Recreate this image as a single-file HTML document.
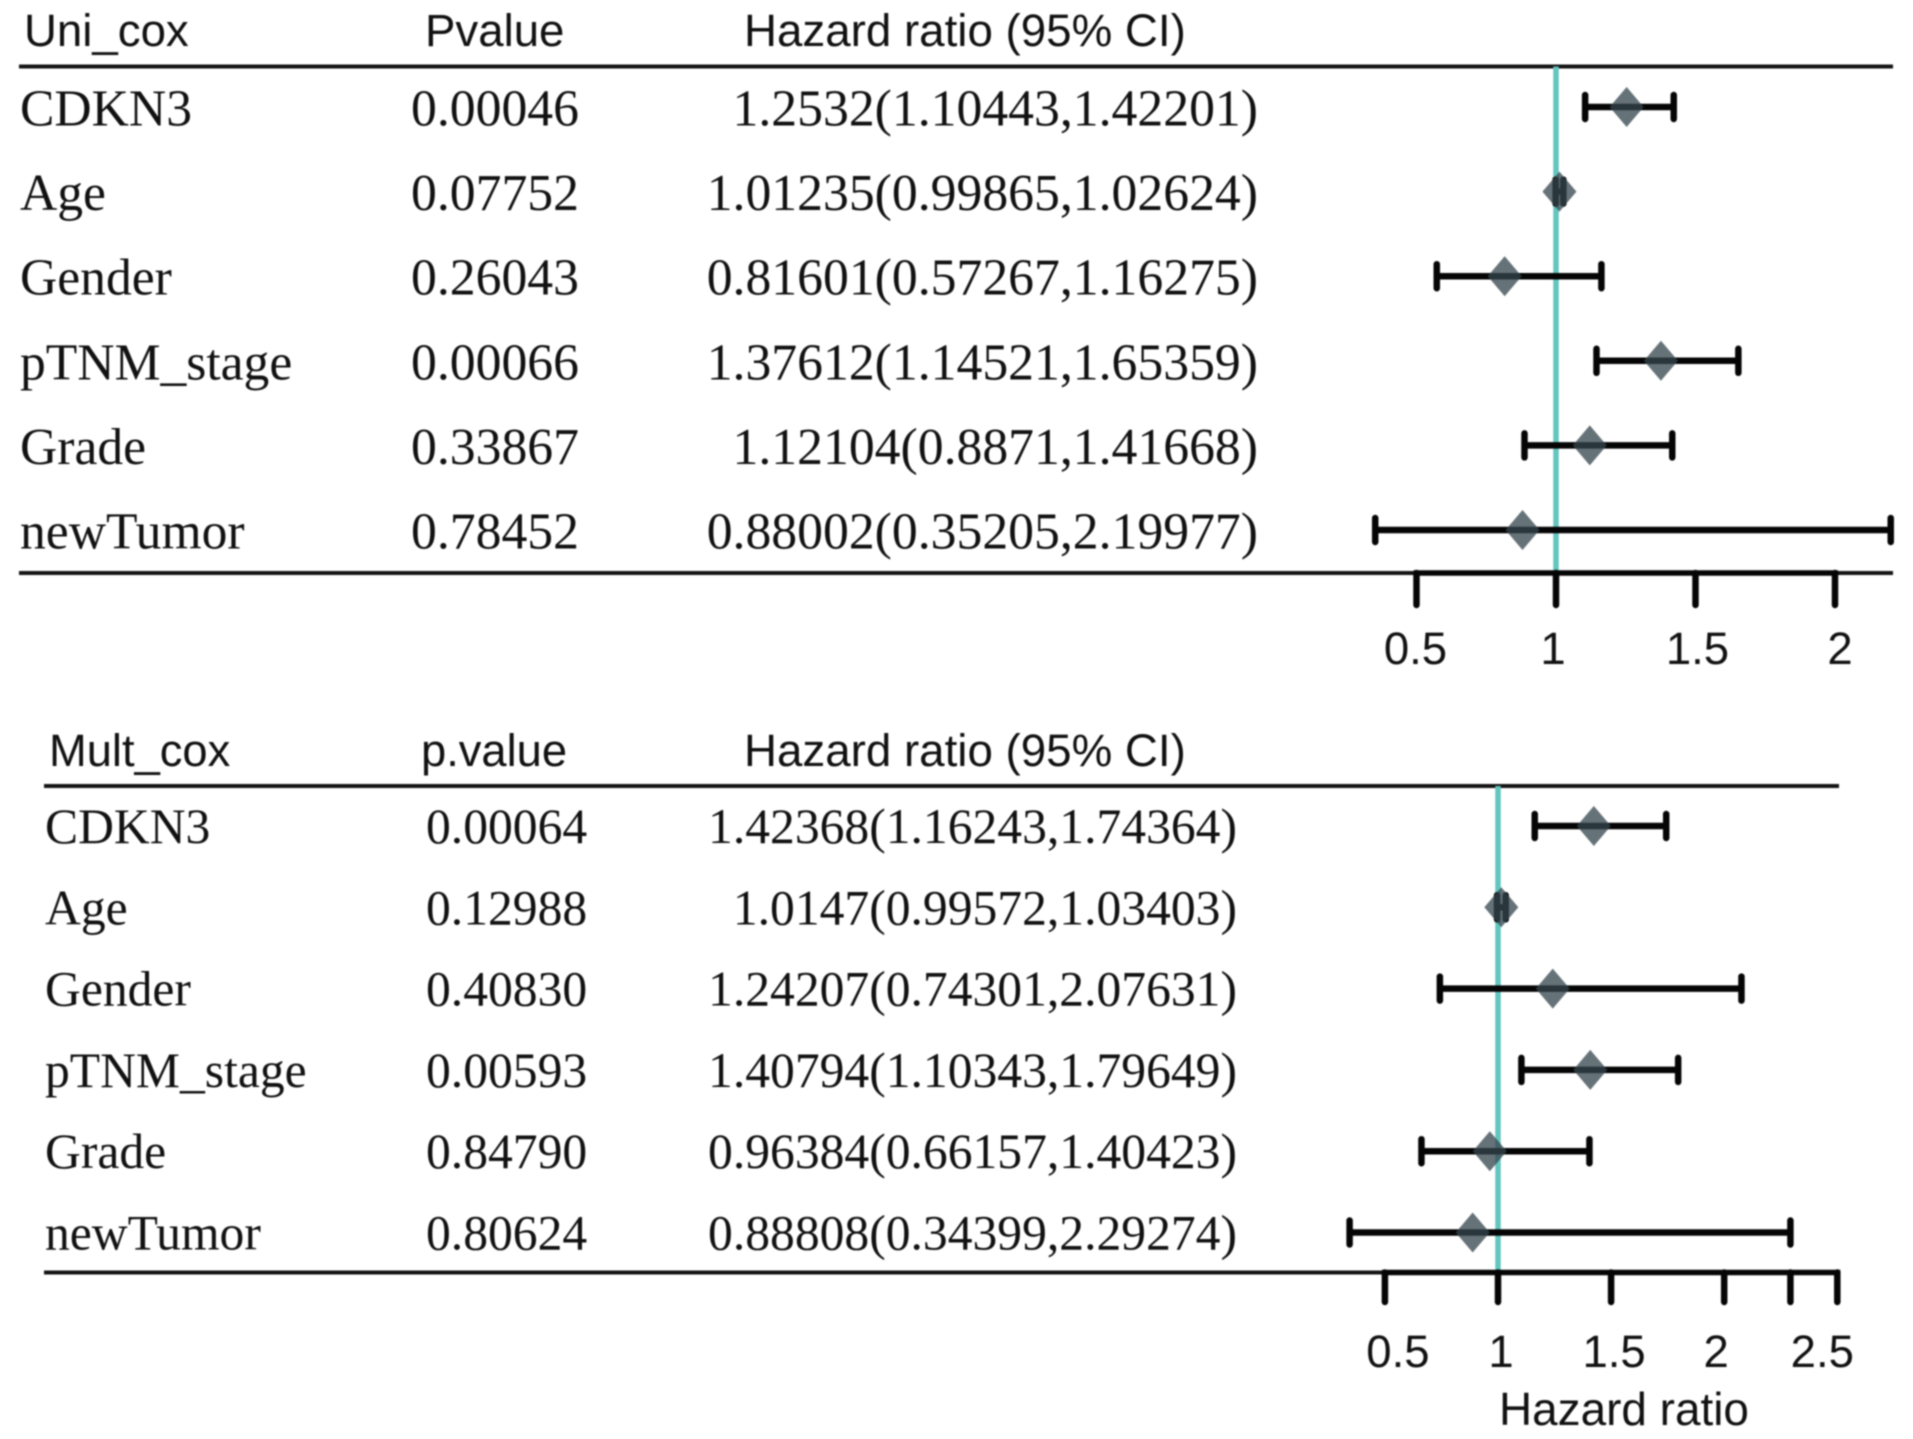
<!DOCTYPE html>
<html lang="en">
<head>
<meta charset="utf-8">
<title>Cox regression forest plots</title>
<style>
  html, body { margin: 0; padding: 0; background: #fff; }
  body { width: 1913px; height: 1439px; overflow: hidden; }
  svg { display: block; filter: blur(0.9px); }
  .sans { font-family: "Liberation Sans", sans-serif; fill: #111; }
  .serif { font-family: "Liberation Serif", serif; fill: #111; }
</style>
</head>
<body>
<svg id="chart" xmlns="http://www.w3.org/2000/svg" width="1913" height="1439" viewBox="0 0 1913 1439">
  <rect width="1913" height="1439" fill="#fff"/>
  <g id="uni">
    <text class="sans" x="24" y="46" font-size="45.6">Uni_cox</text>
    <text class="sans" x="425" y="46" font-size="45.6">Pvalue</text>
    <text class="sans" x="744" y="46" font-size="45.7">Hazard ratio (95% CI)</text>
  </g>
  <g id="mult">
    <text class="sans" x="49" y="766" font-size="45.3">Mult_cox</text>
    <text class="sans" x="421" y="766" font-size="45.3">p.value</text>
    <text class="sans" x="744" y="766" font-size="45.7">Hazard ratio (95% CI)</text>
    <text class="sans" x="1499" y="1425" font-size="45.9">Hazard ratio</text>
  </g>
</svg>
<script>
// ---- Shared categories ----
const categories = ['CDKN3', 'Age', 'Gender', 'pTNM_stage', 'Grade', 'newTumor'];

// ---- Univariate Cox data ----
const uniPvalues = ['0.00046', '0.07752', '0.26043', '0.00066', '0.33867', '0.78452'];
const uniHr = [1.2532, 1.01235, 0.81601, 1.37612, 1.12104, 0.88002];
const uniLow = [1.10443, 0.99865, 0.57267, 1.14521, 0.8871, 0.35205];
const uniHigh = [1.42201, 1.02624, 1.16275, 1.65359, 1.41668, 2.19977];
const uniTicks = [0.5, 1, 1.5, 2];
const uniTickLabels = ['0.5', '1', '1.5', '2'];

// ---- Multivariate Cox data ----
const multPvalues = ['0.00064', '0.12988', '0.40830', '0.00593', '0.84790', '0.80624'];
const multHr = [1.42368, 1.0147, 1.24207, 1.40794, 0.96384, 0.88808];
const multLow = [1.16243, 0.99572, 0.74301, 1.10343, 0.66157, 0.34399];
const multHigh = [1.74364, 1.03403, 2.07631, 1.79649, 1.40423, 2.29274];
const multTicks = [0.5, 1, 1.5, 2, 2.29274, 2.5];
const multTickLabels = ['0.5', '1', '1.5', '2', '2.5'];

const NS = 'http://www.w3.org/2000/svg';
function make(tag, parent, attrs, text) {
  const el = document.createElementNS(NS, tag);
  for (const k in attrs) el.setAttribute(k, attrs[k]);
  if (text !== undefined) el.textContent = text;
  parent.appendChild(el);
  return el;
}

function drawPanel(group, d, s) {
  const xScale = v => s.xRef + (v - 1) * s.pxPerUnit;
  const yScale = i => s.rowTop + i * s.rowStep;

  const rowsTop = make('line', group, { x1: s.ruleLeft, x2: s.ruleRight, y1: s.ruleTop, y2: s.ruleTop, stroke: '#141414', 'stroke-width': 4 });
  
  

  const ref = make('line', group, { x1: xScale(1), x2: xScale(1), y1: s.ruleTop, y2: s.ruleBottom, stroke: '#63c5be', 'stroke-width': 5.5 });
  
  

  const rowsBottom = make('line', group, { x1: s.ruleLeft, x2: s.ruleRight, y1: s.ruleBottom, y2: s.ruleBottom, stroke: '#141414', 'stroke-width': 4 });
  
  

  d.categories.forEach((cat, i) => {
    const y = yScale(i);
    const base = y + s.baseline;

    const name = make('text', group, { class: 'serif', x: s.nameX, y: base, 'font-size': s.nameSize }, cat);
    
    

    const p = make('text', group, { class: 'serif', x: s.pX, y: base, 'font-size': s.valueSize }, d.pvalues[i]);
    
    

    const ci = make('text', group, { class: 'serif', x: s.ciRight, y: base, 'font-size': s.valueSize, 'text-anchor': 'end' },
      d.hr[i] + '(' + d.low[i] + ',' + d.high[i] + ')');
    
    

    const whisker = make('line', group, { x1: xScale(d.low[i]), x2: xScale(d.high[i]), y1: y, y2: y, stroke: '#050505', 'stroke-width': 6.5 });
    
    

    const capLow = make('line', group, { x1: xScale(d.low[i]), x2: xScale(d.low[i]), y1: y - 12, y2: y + 12, stroke: '#050505', 'stroke-width': 6.5, 'stroke-linecap': 'round' });
    
    

    const capHigh = make('line', group, { x1: xScale(d.high[i]), x2: xScale(d.high[i]), y1: y - 12, y2: y + 12, stroke: '#050505', 'stroke-width': 6.5, 'stroke-linecap': 'round' });
    
    

    const cx = xScale(d.hr[i]);
    const diamond = make('polygon', group, {
      points: [[cx, y - 20], [cx + 17, y], [cx, y + 20], [cx - 17, y]].map(q => q.join(',')).join(' '),
      fill: 'rgb(52,70,78)', 'fill-opacity': 0.76
    });
    
    
  });

  const axis = make('line', group, {
    x1: xScale(d.ticks[0]) - 3, x2: xScale(d.ticks[d.ticks.length - 1]) + 3,
    y1: s.ruleBottom, y2: s.ruleBottom, stroke: '#050505', 'stroke-width': 5.5
  });
  
  

  d.ticks.forEach(t => {
    const tick = make('line', group, { x1: xScale(t), x2: xScale(t), y1: s.ruleBottom, y2: s.tickBottom, stroke: '#050505', 'stroke-width': 6.5, 'stroke-linecap': 'round' });
    
    
  });

  d.tickLabels.forEach((lab, i) => {
    const label = make('text', group, { class: 'sans', x: xScale(Number(lab)) + s.labelNudge[i], y: s.labelY, 'font-size': 45.5, 'text-anchor': 'middle' }, lab);
    
    
  });
}

drawPanel(document.getElementById('uni'),
  { categories, pvalues: uniPvalues, hr: uniHr, low: uniLow, high: uniHigh, ticks: uniTicks, tickLabels: uniTickLabels },
  { xRef: 1556, pxPerUnit: 279, rowTop: 107, rowStep: 84.6, baseline: 18.5,
    ruleLeft: 19, ruleRight: 1893, ruleTop: 66.5, ruleBottom: 573, tickBottom: 605, labelY: 664,
    nameX: 20, nameSize: 51.6, pX: 411, valueSize: 51.7, ciRight: 1258,
    labelNudge: [-1, -3, 2, 5] });

drawPanel(document.getElementById('mult'),
  { categories, pvalues: multPvalues, hr: multHr, low: multLow, high: multHigh, ticks: multTicks, tickLabels: multTickLabels },
  { xRef: 1498, pxPerUnit: 226.2, rowTop: 826, rowStep: 81.3, baseline: 17,
    ruleLeft: 44, ruleRight: 1839, ruleTop: 786, ruleBottom: 1272.5, tickBottom: 1302, labelY: 1367,
    nameX: 45, nameSize: 49.6, pX: 426, valueSize: 49.6, ciRight: 1237,
    labelNudge: [13, 3, 3, -8, -15] });
</script>
</body>
</html>
